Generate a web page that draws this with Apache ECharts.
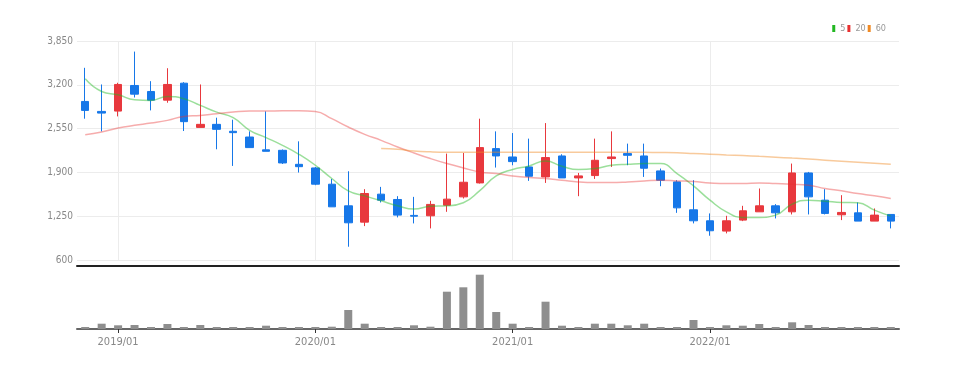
<!DOCTYPE html>
<html>
<head>
<meta charset="utf-8">
<script src="https://cdn.jsdelivr.net/npm/echarts@6/dist/echarts.min.js"></script>
<style>
html,body{margin:0;padding:0;background:#fff;}
#chart{width:955px;height:370px;}
</style>
</head>
<body>
<div id="chart"></div>
<script>
var categories = ['2018/11','2018/12','2019/01','2019/02','2019/03','2019/04','2019/05','2019/06','2019/07','2019/08','2019/09','2019/10','2019/11','2019/12',
'2020/01','2020/02','2020/03','2020/04','2020/05','2020/06','2020/07','2020/08','2020/09','2020/10','2020/11','2020/12',
'2021/01','2021/02','2021/03','2021/04','2021/05','2021/06','2021/07','2021/08','2021/09','2021/10','2021/11','2021/12',
'2022/01','2022/02','2022/03','2022/04','2022/05','2022/06','2022/07','2022/08','2022/09','2022/10','2022/11','2022/12'];

var openValues  = [2953,2805,2810,3190,3101,2972,3224,2568,2613,2510,2425,2235,2228,2020,1966,1725,1404,1162,1577,1498,1262,1256,1414,1537,1744,2253,2129,1981,1833,2144,1818,1853,2105,2179,2144,1922,1759,1345,1182,1029,1192,1315,1404,1315,1892,1488,1271,1300,1177,1276];
var closeValues = [2820,2780,3205,3061,2972,3205,2653,2613,2539,2490,2268,2213,2040,1985,1725,1389,1152,1587,1488,1266,1250,1425,1503,1754,2268,2144,2060,1843,2120,1818,1848,2080,2129,2154,1962,1784,1374,1182,1034,1182,1330,1404,1300,1892,1537,1291,1306,1177,1266,1177];
var lowValues   = [2697,2509,2731,3012,2820,2934,2514,2568,2243,1996,2268,2213,2025,1898,1710,1389,797,1103,1454,1232,1143,1069,1315,1513,1735,1972,2006,1774,1744,1818,1547,1803,1981,2006,1833,1695,1300,1143,960,995,1177,1315,1217,1276,1276,1276,1192,1177,1177,1069];
var highValues  = [3452,3205,3230,3693,3254,3446,3239,3205,2712,2682,2509,2805,2240,2361,1981,1803,1917,1651,1685,1547,1537,1478,2179,2188,2697,2509,2484,2401,2632,2169,1892,2401,2509,2327,2327,1957,1784,1784,1291,1256,1404,1661,1429,2031,1907,1651,1562,1454,1365,1276];

var ma5  = [3289,3101,3052,2978,2968,3027,2993,2894,2795,2712,2524,2416,2302,2169,2006,1809,1626,1552,1478,1404,1355,1399,1404,1449,1630,1848,1942,1996,2070,1991,1942,1957,2006,2021,2031,2031,1883,1700,1488,1315,1232,1232,1266,1429,1488,1473,1454,1449,1340,1251];
var ma20 = [2460,2499,2558,2598,2632,2672,2731,2746,2771,2795,2810,2810,2815,2815,2805,2697,2573,2465,2376,2277,2188,2105,2031,1966,1907,1883,1848,1824,1809,1784,1759,1750,1750,1759,1774,1784,1774,1764,1744,1735,1735,1744,1735,1725,1710,1661,1626,1587,1552,1513];
var ma60 = ['-','-','-','-','-','-','-','-','-','-','-','-','-','-','-','-','-','-',2253,2243,2218,2205,2200,2200,2200,2200,2200,2200,2200,2200,2200,2200,2200,2200,2198,2195,2190,2180,2170,2160,2150,2138,2126,2112,2098,2082,2066,2050,2035,2020];

var volumes = [170,530,370,400,170,500,200,400,200,70,70,330,70,70,70,230,1900,530,170,170,370,230,3730,4170,5430,1700,530,200,2730,330,130,530,530,370,530,130,130,900,170,370,330,500,30,670,400,170,200,30,130,170];

var yTicks = [600,1250,1900,2550,3200,3850];

var FONT = "'Liberation Sans Narrow','DejaVu Sans Condensed','Liberation Sans',sans-serif";
var isJan = function(idx, val){ return /\/01$/.test(val); };

var candleData = categories.map(function(c,i){ return [openValues[i], closeValues[i], lowValues[i], highValues[i]]; });

var chart = echarts.init(document.getElementById('chart'), null, {renderer:'canvas'});
chart.setOption({
  animation:false,
  backgroundColor:'#fff',
  legend:{
    right:64, top:19, icon:'rect', itemWidth:3, itemHeight:7, itemGap:2,
    textStyle:{color:'#999', fontSize:9, fontFamily:FONT},
    data:['5','20','60']
  },
  grid:[
    {left:77, right:56, top:41, bottom:110},
    {left:77, right:56, top:270, bottom:41}
  ],
  xAxis:[
    {type:'category', gridIndex:0, data:categories, boundaryGap:true,
     axisLine:{show:true, onZero:false, lineStyle:{color:'#222', width:2}}, offset:6,
     axisTick:{show:false}, axisLabel:{show:false},
     splitLine:{show:true, interval:isJan, alignWithLabel:true, lineStyle:{color:'#ececec', width:1}}},
    {type:'category', gridIndex:1, data:categories, boundaryGap:true,
     axisLine:{show:true, onZero:false, lineStyle:{color:'#666', width:2}},
     axisTick:{show:true, interval:isJan, alignWithLabel:true, length:4, lineStyle:{color:'#333'}},
     axisLabel:{show:true, interval:isJan, color:'#888', fontSize:11, fontFamily:FONT, margin:8},
     splitLine:{show:false}}
  ],
  yAxis:[
    {type:'value', gridIndex:0, min:yTicks[0], max:yTicks[yTicks.length-1], interval:650,
     axisLine:{show:false}, axisTick:{show:false},
     axisLabel:{color:'#888', fontSize:10, fontFamily:FONT, margin:4,
       formatter:function(v){ return v.toLocaleString('en-US'); }},
     splitLine:{lineStyle:{color:'#ececec'}}},
    {type:'value', gridIndex:1, min:0, max:5900, show:false, splitLine:{show:false}}
  ],
  series:[
    {name:'candle', type:'candlestick', xAxisIndex:0, yAxisIndex:0, data:candleData, barWidth:8,
     itemStyle:{color:'#e8383d', color0:'#1677e8', borderColor:'#e8383d', borderColor0:'#1677e8', borderWidth:1}},
    {name:'5', type:'line', data:ma5, smooth:true, showSymbol:false, xAxisIndex:0, yAxisIndex:0,
     itemStyle:{color:'#22b722'}, lineStyle:{color:'#22b722', width:1.5, opacity:0.45}},
    {name:'20', type:'line', data:ma20, smooth:true, showSymbol:false, xAxisIndex:0, yAxisIndex:0,
     itemStyle:{color:'#e83030'}, lineStyle:{color:'#e83030', width:1.5, opacity:0.4}},
    {name:'60', type:'line', data:ma60, smooth:true, showSymbol:false, xAxisIndex:0, yAxisIndex:0,
     itemStyle:{color:'#f08a24'}, lineStyle:{color:'#f08a24', width:1.5, opacity:0.45}},
    {name:'vol', type:'bar', xAxisIndex:1, yAxisIndex:1, data:volumes, barWidth:8, barMinHeight:2,
     itemStyle:{color:'#8e8e8e'}}
  ]
});
</script>
</body>
</html>
